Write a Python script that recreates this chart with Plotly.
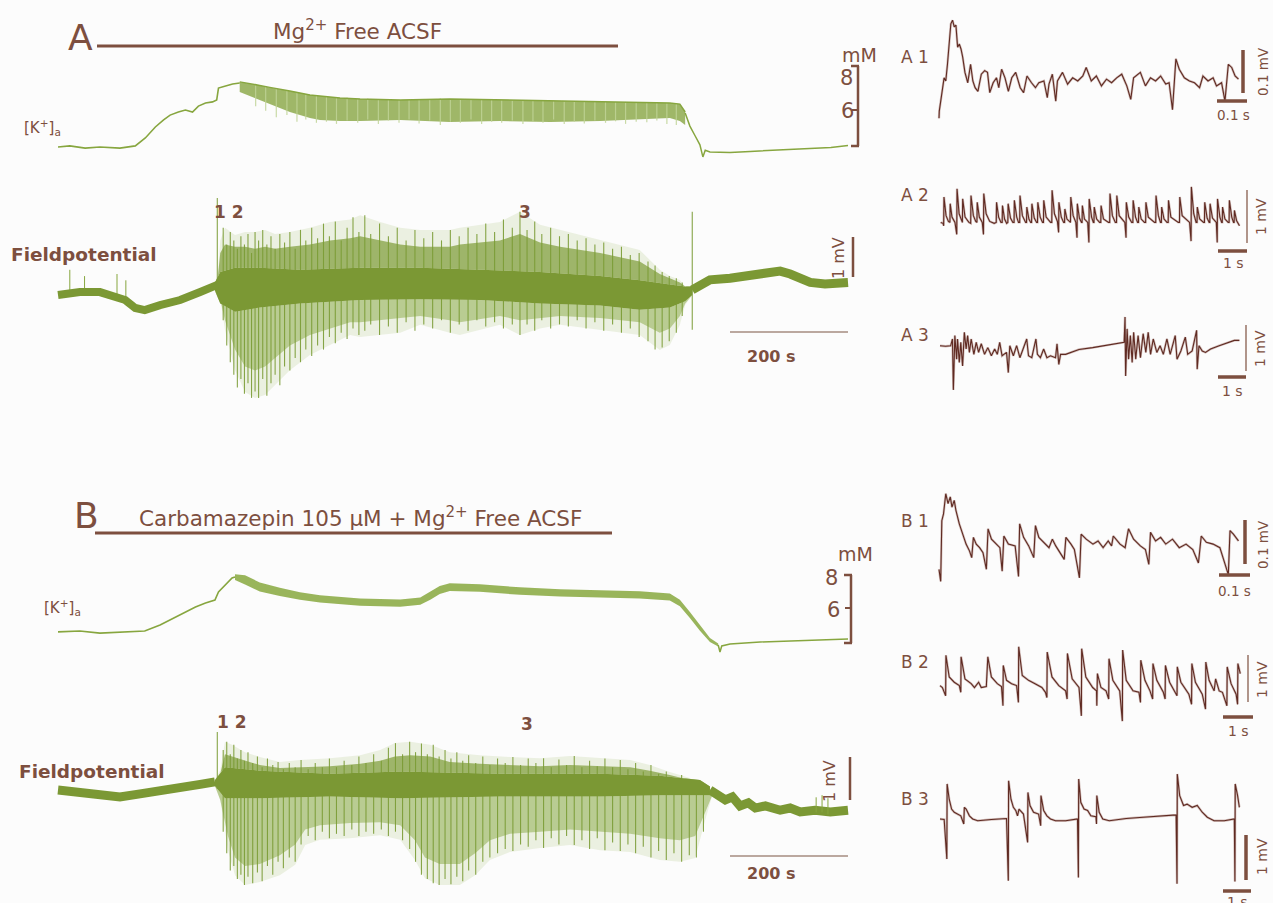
import plotly.graph_objects as go

W, H = 1273, 903
BG = '#fcfcfc'
BROWN = '#7d4f3f'
BAR_LIGHT = '#a68c80'
DARK = '#5f2a22'
HALO = 'rgba(150,100,90,0.40)'
GREEN = '#87a63f'
GREEN_CORE = '#7b9834'
GREEN_UP = 'rgba(125,155,55,0.70)'
GREEN_LOW = 'rgba(135,168,68,0.50)'
GREEN_HAZE = 'rgba(150,182,90,0.16)'
GREEN_STREAK = 'rgba(192,212,150,0.85)'
GREEN_SPK = 'rgba(122,155,52,0.9)'
GREEN_BAND = 'rgba(128,160,55,0.75)'
FONT = '"DejaVu Sans", "Open Sans", sans-serif'

# ---------------- A : [K+]a (time s, K mM) ----------------
kA_pre_t = [0, 20, 46, 71, 105, 131, 148, 165, 179, 190, 204, 216, 228, 238, 250, 262, 269, 272, 284, 296, 308]
kA_pre_v = [4.35, 4.40, 4.30, 4.35, 4.30, 4.40, 4.76, 5.26, 5.58, 5.80, 5.94, 6.03, 5.94, 6.21, 6.35, 6.40, 6.49, 7.03, 7.12, 7.21, 7.26]
kA_band_t = [308, 325, 342, 359, 376, 393, 410, 427, 444, 478, 512, 580, 664, 749, 834, 919, 986, 1037, 1054, 1063]
kA_band_hi = [7.31, 7.24, 7.15, 7.06, 6.99, 6.90, 6.80, 6.71, 6.67, 6.58, 6.53, 6.49, 6.53, 6.49, 6.44, 6.40, 6.40, 6.35, 6.30, 5.94]
kA_band_lo = [6.85, 6.67, 6.49, 6.30, 6.12, 5.94, 5.80, 5.67, 5.58, 5.53, 5.53, 5.58, 5.49, 5.53, 5.49, 5.53, 5.62, 5.67, 5.53, 5.35]
kA_spk_t = [335, 352, 370, 388, 405, 420, 438, 455, 472, 490, 508, 525, 543, 560, 578, 595, 612, 630, 648, 665, 682,
            700, 718, 735, 752, 770, 788, 805, 822, 840, 858, 875, 892, 910, 928, 945, 962, 980, 998, 1015, 1032, 1048]
kA_spk_hi = [7.2, 7.1, 7.0, 6.9, 6.8, 6.75, 6.7, 6.65, 6.6, 6.6, 6.55, 6.55, 6.5, 6.5, 6.5, 6.5, 6.52, 6.52, 6.55, 6.53, 6.5,
             6.5, 6.5, 6.5, 6.48, 6.47, 6.46, 6.45, 6.44, 6.43, 6.42, 6.42, 6.41, 6.4, 6.4, 6.4, 6.4, 6.38, 6.38, 6.37, 6.35, 6.32]
kA_spk_lo = [6.2, 6.0, 5.7, 5.8, 5.5, 5.6, 5.45, 5.5, 5.4, 5.55, 5.45, 5.6, 5.4, 5.55, 5.45, 5.6, 5.42, 5.55, 5.35, 5.5, 5.45,
             5.6, 5.4, 5.5, 5.45, 5.55, 5.4, 5.5, 5.45, 5.6, 5.4, 5.5, 5.42, 5.55, 5.45, 5.52, 5.4, 5.5, 5.48, 5.55, 5.4, 5.35]
kA_post_t = [1063, 1071, 1080, 1088, 1093, 1097, 1105, 1139, 1173, 1207, 1241, 1275, 1310, 1339]
kA_post_v = [5.90, 5.30, 4.85, 4.45, 3.90, 4.20, 4.12, 4.10, 4.15, 4.20, 4.22, 4.30, 4.33, 4.42]

# ---------------- A : field potential (time s, mV) ----------------
fA_pre_t = [0, 20, 37, 71, 97, 114, 131, 147, 173, 207, 241, 258, 270]
fA_pre_v = [0, 0.05, 0.07, 0.07, -0.02, -0.12, -0.31, -0.36, -0.24, -0.12, 0.07, 0.17, 0.24]
fA_pre_spk_t = [20, 45, 100, 115]
fA_pre_spk_hi = [0.60, 0.45, 0.50, 0.35]
fA_pre_spk_lo = [0.0, 0.0, -0.05, -0.15]
fA_env_t = [270, 275, 283, 300, 317, 334, 351, 368, 393, 427, 461, 495, 512, 546, 580, 614, 664, 681, 749, 783,
            817, 851, 919, 986, 1020, 1037, 1054, 1063, 1075]
fA_env_hi = [0.3, 1.3, 1.6, 1.43, 1.5, 1.5, 1.55, 1.45, 1.5, 1.6, 1.74, 1.8, 1.9, 1.74, 1.6, 1.55, 1.55, 1.6, 1.74, 1.98,
             1.67, 1.55, 1.31, 1.07, 0.6, 0.45, 0.36, 0.2, 0.15]
fA_env_lo = [0.0, -0.1, -0.83, -1.79, -2.31, -2.45, -2.38, -2.14, -1.79, -1.43, -1.19, -0.95, -1.0, -0.95, -0.9, -0.71,
             -0.9, -0.95, -0.71, -0.95, -0.8, -0.71, -0.83, -0.95, -1.31, -1.19, -0.71, -0.24, 0.0]
fA_dense_hi = [0.3, 1.0, 1.2, 1.15, 1.15, 1.1, 1.15, 1.1, 1.15, 1.2, 1.3, 1.35, 1.4, 1.3, 1.2, 1.15, 1.15, 1.2, 1.3, 1.45,
               1.25, 1.15, 1.0, 0.8, 0.5, 0.4, 0.3, 0.2, 0.15]
fA_dense_lo = [0.0, -0.1, -0.6, -1.3, -1.7, -1.8, -1.7, -1.5, -1.2, -0.95, -0.8, -0.65, -0.65, -0.6, -0.55, -0.5, -0.6,
               -0.65, -0.5, -0.6, -0.55, -0.5, -0.55, -0.65, -0.9, -0.8, -0.5, -0.2, 0.0]
fA_core_t = [266, 275, 300, 342, 410, 512, 614, 717, 817, 919, 986, 1037, 1063, 1075]
fA_core_hi = [0.30, 0.55, 0.65, 0.65, 0.6, 0.65, 0.65, 0.6, 0.55, 0.45, 0.35, 0.25, 0.2, 0.2]
fA_core_lo = [0.1, -0.2, -0.4, -0.3, -0.2, -0.12, -0.1, -0.12, -0.2, -0.25, -0.35, -0.3, -0.15, 0.0]
fA_spk_t = [270, 280, 286, 292, 298, 304, 310, 316, 322, 328, 334, 340, 347, 354, 361, 368, 376, 384, 393, 402, 411, 420,
            430, 440, 450, 460, 470, 480, 490, 500, 510, 520, 530, 545, 560, 575, 590, 605, 620, 635, 650, 665, 680, 695,
            710, 725, 740, 755, 770, 783, 795, 808, 820, 835, 850, 865, 880, 895, 910, 925, 940, 955, 970, 985, 1000,
            1012, 1024, 1036, 1048, 1058, 1075]
fA_spk_hi = [2.31, 1.6, 1.2, 1.5, 1.3, 1.1, 1.4, 1.2, 1.45, 1.0, 1.5, 1.3, 1.55, 1.2, 1.4, 1.1, 1.45, 1.25, 1.5, 1.1, 1.55,
             1.3, 1.6, 1.35, 1.7, 1.4, 1.75, 1.3, 1.6, 1.85, 1.5, 1.9, 1.45, 1.7, 1.4, 1.6, 1.3, 1.55, 1.35, 1.5, 1.3,
             1.55, 1.4, 1.6, 1.45, 1.7, 1.5, 1.8, 1.6, 1.98, 1.55, 1.75, 1.45, 1.6, 1.4, 1.45, 1.3, 1.35, 1.2, 1.25, 1.1,
             1.15, 0.95, 1.0, 0.8, 0.7, 0.55, 0.45, 0.4, 0.3, 1.98]
fA_spk_lo = [0.1, -0.6, -1.2, -1.6, -1.9, -2.2, -2.0, -2.35, -2.1, -2.45, -2.3, -2.45, -2.0, -2.4, -2.1, -1.9, -2.15, -1.7,
             -1.8, -1.5, -1.6, -1.3, -1.45, -1.2, -1.3, -1.0, -1.15, -0.9, -1.05, -0.8, -0.95, -0.85, -0.7, -0.95, -0.75,
             -0.9, -0.65, -0.85, -0.7, -0.8, -0.6, -0.9, -0.7, -0.85, -0.6, -0.75, -0.65, -0.8, -0.7, -0.95, -0.7, -0.85,
             -0.6, -0.8, -0.7, -0.75, -0.6, -0.8, -0.65, -0.85, -0.7, -0.9, -0.8, -1.0, -1.1, -1.3, -1.25, -1.1, -0.9,
             -0.5, -0.83]
fA_post_t = [1075, 1088, 1105, 1139, 1173, 1207, 1224, 1241, 1258, 1275, 1300, 1320, 1339]
fA_post_v = [0.12, 0.24, 0.36, 0.40, 0.45, 0.55, 0.57, 0.50, 0.40, 0.30, 0.26, 0.30, 0.30]

# ---------------- B : [K+]a (time s, K mM) ----------------
kB_pre_t = [0, 37, 71, 105, 147, 173, 199, 216, 233, 250, 266, 272, 283, 295, 300]
kB_pre_v = [4.55, 4.61, 4.48, 4.55, 4.61, 4.97, 5.45, 5.76, 6.06, 6.30, 6.48, 6.97, 7.39, 7.82, 7.88]
kB_band_t = [300, 317, 342, 376, 410, 444, 512, 580, 614, 631, 647, 664, 715, 783, 851, 919, 986, 1037, 1054, 1071,
             1088, 1105, 1119]
kB_band_hi = [8.05, 7.98, 7.55, 7.22, 6.95, 6.78, 6.58, 6.52, 6.63, 6.97, 7.33, 7.50, 7.44, 7.25, 7.13, 7.07, 7.01, 6.88,
              6.50, 5.75, 4.95, 4.18, 3.85]
kB_band_lo = [7.70, 7.42, 7.00, 6.72, 6.50, 6.33, 6.14, 6.08, 6.20, 6.50, 6.85, 7.03, 6.98, 6.80, 6.69, 6.63, 6.57, 6.45,
              6.10, 5.40, 4.62, 3.94, 3.66]
kB_post_t = [1119, 1122, 1125, 1139, 1190, 1241, 1292, 1339]
kB_post_v = [3.76, 3.33, 3.70, 3.82, 3.94, 4.00, 4.06, 4.12]

# ---------------- B : field potential (time s, mV) ----------------
fB_pre_t = [0, 37, 71, 105, 139, 173, 207, 241, 266]
fB_pre_v = [0.07, 0.02, -0.07, -0.09, -0.02, 0.07, 0.14, 0.20, 0.26]
fB_up_t = [266, 275, 283, 295, 317, 342, 376, 410, 461, 512, 546, 571, 597, 631, 664, 715, 766, 817, 868, 919, 970,
           1003, 1037, 1071, 1088, 1105]
fB_up_v = [0.3, 0.53, 1.19, 1.12, 0.95, 0.84, 0.72, 0.77, 0.81, 0.88, 1.0, 1.16, 1.19, 1.12, 0.95, 0.88, 0.84, 0.81, 0.86,
           0.81, 0.77, 0.65, 0.49, 0.35, 0.19, 0.07]
fB_dense_hi = [0.3, 0.45, 0.9, 0.85, 0.75, 0.65, 0.58, 0.6, 0.62, 0.68, 0.75, 0.85, 0.88, 0.85, 0.72, 0.68, 0.65, 0.62,
               0.65, 0.62, 0.6, 0.52, 0.42, 0.3, 0.18, 0.07]
fB_lo_t = [266, 275, 288, 300, 317, 342, 376, 402, 419, 444, 495, 546, 580, 605, 622, 647, 681, 707, 732, 766, 817, 868,
           919, 970, 1020, 1054, 1080, 1097, 1109]
fB_lo_v = [0.16, -0.16, -1.33, -1.91, -2.14, -2.07, -1.91, -1.67, -1.21, -1.09, -1.05, -0.98, -1.09, -1.56, -1.98, -2.14,
           -2.14, -1.91, -1.56, -1.37, -1.28, -1.21, -1.33, -1.37, -1.56, -1.60, -1.51, -0.63, -0.05]
fB_dense_lo = [0.16, -0.16, -1.0, -1.5, -1.7, -1.65, -1.45, -1.2, -0.85, -0.75, -0.7, -0.68, -0.75, -1.1, -1.5, -1.65,
               -1.65, -1.4, -1.1, -0.95, -0.9, -0.85, -0.9, -0.95, -1.05, -1.1, -1.0, -0.45, -0.05]
fB_core_t = [266, 283, 342, 461, 580, 749, 919, 1020, 1088, 1105]
fB_core_hi = [0.30, 0.60, 0.52, 0.45, 0.50, 0.45, 0.45, 0.40, 0.30, 0.15]
fB_core_lo = [0.16, -0.12, -0.12, -0.08, -0.12, -0.08, -0.08, -0.05, -0.05, -0.05]
fB_spk_t = [270, 280, 286, 292, 298, 304, 310, 316, 322, 330, 338, 346, 355, 364, 373, 382, 392, 402, 412, 424, 436, 448,
            460, 472, 485, 498, 510, 522, 535, 548, 560, 572, 584, 596, 606, 616, 626, 636, 646, 656, 666, 676, 686, 696,
            708, 720, 732, 745, 758, 771, 784, 797, 810, 823, 836, 849, 862, 875, 888, 901, 914, 927, 940, 953, 966, 979,
            992, 1005, 1018, 1031, 1044, 1057, 1070, 1082, 1094]
fB_spk_hi = [1.42, 1.0, 1.19, 0.9, 1.12, 0.8, 1.0, 0.75, 0.95, 0.7, 0.85, 0.6, 0.8, 0.65, 0.72, 0.55, 0.7, 0.6, 0.77, 0.55,
             0.7, 0.6, 0.8, 0.6, 0.75, 0.65, 0.85, 0.7, 0.9, 0.75, 1.05, 1.16, 0.9, 1.19, 0.95, 1.15, 0.9, 1.12, 0.85, 1.0,
             0.8, 0.95, 0.75, 0.88, 0.7, 0.85, 0.65, 0.8, 0.7, 0.84, 0.65, 0.8, 0.7, 0.81, 0.6, 0.78, 0.65, 0.86, 0.6, 0.75,
             0.62, 0.8, 0.6, 0.77, 0.55, 0.7, 0.5, 0.65, 0.45, 0.5, 0.35, 0.42, 0.3, 0.25, 0.15]
fB_spk_lo = [0.1, -0.9, -1.4, -1.8, -1.7, -2.0, -1.9, -2.14, -1.95, -2.1, -1.85, -2.05, -1.7, -1.9, -1.6, -1.75, -1.5, -1.6,
             -1.2, -1.0, -1.1, -0.9, -1.05, -0.95, -1.0, -0.85, -1.0, -0.9, -0.95, -0.85, -1.0, -0.9, -1.1, -1.3, -1.6,
             -1.9, -2.0, -2.1, -2.14, -2.0, -2.12, -1.95, -2.05, -1.8, -1.9, -1.6, -1.5, -1.4, -1.3, -1.35, -1.2, -1.25,
             -1.1, -1.28, -1.05, -1.2, -1.0, -1.21, -1.1, -1.3, -1.05, -1.33, -1.15, -1.35, -1.2, -1.4, -1.25, -1.5, -1.35,
             -1.56, -1.4, -1.6, -1.45, -1.5, -0.9]
fB_post_t = [1105, 1119, 1131, 1143, 1156, 1170, 1182, 1199, 1224, 1241, 1258, 1283, 1309, 1339]
fB_post_v = [0.07, -0.09, -0.16, -0.09, -0.30, -0.23, -0.35, -0.30, -0.40, -0.35, -0.44, -0.40, -0.44, -0.40]
fB_post_spk_t = [1285, 1295, 1305]
fB_post_spk_hi = [-0.10, -0.05, -0.12]
fB_post_spk_lo = [-0.45, -0.45, -0.50]

# ---------------- insets (A1/B1: ms, uV ; others: s, mV) ----------------
a1_t = [0, 1, 18, 24, 30, 36, 42, 48, 54, 60, 66, 72, 78, 84, 92, 102, 112, 120, 128, 138, 150, 162, 172, 180, 192, 204,
        212, 222, 234, 246, 258, 272, 288, 300, 312, 328, 342, 354, 372, 384, 390, 402, 414, 420, 438, 456, 474, 492,
        510, 522, 540, 558, 576, 594, 612, 630, 648, 666, 680, 690, 714, 732, 750, 768, 786, 804, 816, 828, 834, 840,
        852, 870, 888, 906, 924, 936, 954, 972, 984, 1002, 1014, 1020, 1026, 1038, 1050, 1062]
a1_v = [-68, -52, 22, 15, 52, 105, 142, 150, 135, 139, 90, 97, 86, 68, 34, 11, 52, 15, 0, -8, 30, 38, 34, -11, 11, 22, 0,
        41, 22, -8, 22, 34, 0, -11, 26, 11, 0, 11, 15, -22, 8, 30, -30, 15, 34, 8, 22, 15, 26, 45, 15, 26, 4, 19, 11, 22,
        30, 4, -26, 22, 34, 4, 22, 15, 26, 8, 11, -49, 22, 64, 41, 22, 15, 11, 0, 26, 15, 22, 4, 11, -30, 22, 52, 45, 26, 19]

a2_t = [0, 0.08, 0.10, 0.11, 0.18, 0.26, 0.31, 0.32, 0.38, 0.48, 0.54, 0.55, 0.62, 0.70, 0.73, 0.74, 0.82, 0.95,
        1.01, 1.02, 1.10, 1.18, 1.22, 1.23, 1.30, 1.40, 1.44, 1.45, 1.53, 1.65, 1.80, 1.87, 1.88, 1.95, 2.03,
        2.07, 2.08, 2.15, 2.22, 2.26, 2.27, 2.35, 2.43, 2.47, 2.48, 2.56, 2.62, 2.66, 2.67, 2.75, 2.86,
        2.89, 2.90, 2.97, 3.03, 3.06, 3.07, 3.15, 3.23, 3.26, 3.27, 3.35, 3.43, 3.46, 3.47, 3.55, 3.70,
        3.74, 3.75, 3.83, 3.93, 3.97, 3.98, 4.06, 4.14, 4.17, 4.18, 4.25, 4.34, 4.37, 4.38, 4.46, 4.55,
        4.59, 4.60, 4.67, 4.74, 4.76, 4.77, 4.84, 4.95, 4.99, 5.00, 5.08, 5.14, 5.16, 5.17, 5.25, 5.35,
        5.39, 5.40, 5.48, 5.65, 5.69, 5.70, 5.78, 5.88, 5.92, 5.93, 6.01, 6.20, 6.24, 6.25, 6.33, 6.43,
        6.47, 6.48, 6.56, 6.63, 6.66, 6.67, 6.75, 6.86, 6.90, 6.91, 6.99, 7.20, 7.24, 7.25, 7.33, 7.40,
        7.43, 7.44, 7.52, 7.62, 7.66, 7.67, 7.75, 8.00, 8.04, 8.05, 8.13, 8.38, 8.43, 8.44, 8.52, 8.60,
        8.63, 8.64, 8.72, 8.85, 8.88, 8.89, 8.97, 9.04, 9.06, 9.07, 9.15, 9.28, 9.31, 9.32, 9.40, 9.46,
        9.48, 9.49, 9.57, 9.68, 9.71, 9.72, 9.80, 9.86, 9.88, 9.89, 9.96, 10.06]
a2_v = [0, -0.02, -0.07, 0.53, 0.14, 0.02, 0.0, 0.39, 0.11, 0.0, -0.25, 0.70, 0.18, 0.02, 0.0, 0.49, 0.11, 0.0,
        -0.02, 0.56, 0.14, 0.02, 0.0, 0.42, 0.11, 0.0, -0.25, 0.60, 0.18, 0.02, -0.02, 0, 0.42, 0.11, 0.0,
        0, 0.35, 0.07, -0.02, 0, 0.39, 0.09, 0, 0, 0.46, 0.11, 0, 0, 0.56, 0.14, 0,
        0, 0.32, 0.07, 0, 0, 0.39, 0.09, 0, 0, 0.42, 0.11, 0, 0, 0.46, 0.11, 0,
        0, 0.67, 0.18, 0.02, -0.21, 0.42, 0.11, 0, 0, 0.28, 0.07, 0, 0, 0.53, 0.14, 0,
        -0.32, 0.39, 0.09, 0, 0, 0.35, 0.07, 0, -0.42, 0.49, 0.11, 0, 0, 0.32, 0.07, 0,
        0, 0.35, 0.07, 0, 0, 0.60, 0.14, 0, 0, 0.56, 0.14, 0, -0.32, 0.42, 0.11, 0,
        0, 0.46, 0.11, 0, 0, 0.32, 0.07, 0, 0, 0.42, 0.11, 0, 0, 0.56, 0.14, 0,
        0, 0.32, 0.07, 0, 0, 0.46, 0.11, 0, 0, 0.53, 0.14, 0, -0.39, 0.74, 0.18, 0,
        0, 0.32, 0.07, 0, 0, 0.42, 0.09, 0, 0, 0.39, 0.09, 0, -0.42, 0.49, 0.11, 0,
        0, 0.32, 0.07, 0, 0, 0.46, 0.11, 0, 0, 0.25, 0.04, -0.07]

a3_t = [0, 0.19, 0.36, 0.42, 0.45, 0.50, 0.56, 0.59, 0.65, 0.70, 0.76, 0.82, 0.88, 0.93, 0.99, 1.05, 1.14, 1.22, 1.30,
        1.39, 1.50, 1.61, 1.73, 1.84, 1.93, 2.01, 2.09, 2.24, 2.30, 2.35, 2.47, 2.58, 2.69, 2.81, 2.92, 2.98, 3.09, 3.23,
        3.28, 3.38, 3.49, 3.60, 3.72, 3.89, 3.94, 4.00, 4.06, 4.23, 4.45, 4.68, 5.14, 5.59, 6.05, 6.20, 6.23, 6.25, 6.30,
        6.35, 6.41, 6.47, 6.52, 6.59, 6.67, 6.75, 6.84, 6.93, 7.01, 7.09, 7.18, 7.30, 7.41, 7.52, 7.64, 7.75, 7.92, 7.98,
        8.11, 8.26, 8.34, 8.49, 8.64, 8.66, 8.72, 8.83, 8.94, 9.11, 9.40, 9.68, 9.91, 10.08]
a3_v = [0, -0.01, 0, 0.14, -0.92, 0.21, -0.28, 0.14, -0.35, 0.07, -0.42, 0.28, -0.07, 0.21, -0.14, 0.14, -0.18, 0.07,
        -0.14, 0.04, -0.18, -0.04, -0.21, -0.07, -0.18, 0.07, -0.21, -0.14, -0.56, 0, -0.21, 0, -0.25, -0.04, 0.14, -0.21,
        -0.25, 0.14, -0.18, -0.25, -0.07, -0.25, -0.21, -0.25, 0.04, -0.39, -0.18, -0.18, -0.13, -0.08, -0.04, 0.01, 0.06,
        0.07, 0.60, -0.63, 0.35, -0.28, 0.21, -0.35, 0.28, -0.28, 0.21, -0.25, 0.25, -0.14, 0.28, -0.18, 0.14, -0.14, 0,
        -0.18, 0.14, -0.18, 0.21, -0.28, -0.11, 0.18, -0.18, -0.11, 0.32, -0.49, 0, -0.11, -0.14, -0.07, 0, 0.06, 0.11, 0.11]

b1_t = [0, 6, 10, 16, 24, 32, 40, 46, 54, 60, 72, 84, 96, 108, 116, 122, 132, 144, 156, 168, 174, 186, 204, 216, 224, 230,
        246, 270, 282, 286, 300, 318, 336, 342, 354, 378, 390, 402, 414, 444, 450, 468, 480, 498, 504, 522, 546, 564, 582,
        600, 612, 618, 642, 660, 672, 690, 714, 732, 744, 750, 768, 786, 804, 828, 852, 876, 900, 920, 930, 948, 972, 996,
        1026, 1032, 1044, 1062]
b1_v = [-52, -79, 56, 71, 116, 94, 109, 86, 101, 79, 49, 26, 4, -11, -26, 19, 4, -4, -15, -52, 38, 15, 4, -4, -56, 22, 4,
        0, -68, 49, 19, 0, -26, 45, 19, 4, -4, 15, 0, -30, 19, 4, -8, -71, 26, 15, 4, 11, -4, 11, 0, 22, 4, -4, 38, 15, 0,
        -8, -41, 30, 11, 19, 4, 15, -4, 4, -8, -38, 22, 8, 4, -4, -64, 34, 26, 11]

b2_t = [0, 0.08, 0.19, 0.20, 0.31, 0.48, 0.65, 0.70, 0.71, 0.84, 1.05, 1.16, 1.30, 1.39, 1.56, 1.61, 1.73, 1.93, 2.07,
        2.12, 2.13, 2.24, 2.41, 2.58, 2.64, 2.65, 2.77, 2.98, 3.20, 3.43, 3.55, 3.60, 3.61, 3.77, 4.00, 4.23, 4.28, 4.29,
        4.45, 4.68, 4.76, 4.77, 4.91, 5.14, 5.27, 5.28, 5.30, 5.42, 5.59, 5.68, 5.69, 5.82, 6.05, 6.14, 6.15, 6.27, 6.50,
        6.70, 6.75, 6.76, 6.90, 7.07, 7.16, 7.17, 7.30, 7.52, 7.58, 7.59, 7.73, 7.92, 7.98, 7.99, 8.11, 8.38, 8.47, 8.48,
        8.60, 8.83, 8.94, 8.95, 9.06, 9.23, 9.28, 9.40, 9.51, 9.66, 9.67, 9.80, 9.97, 10.02, 10.03, 10.11]
b2_v = [0, -0.04, -0.21, 0.63, 0.18, 0.07, 0.0, -0.14, 0.60, 0.14, 0.04, -0.04, 0.07, -0.04, -0.02, 0.60, 0.18, 0.04,
        -0.02, -0.42, 0.42, 0.11, 0.04, 0.0, -0.35, 0.81, 0.21, 0.11, 0.04, -0.04, -0.14, -0.25, 0.70, 0.18, 0.0, -0.11,
        -0.28, 0.67, 0.14, -0.04, -0.63, 0.77, 0.18, -0.04, -0.11, -0.42, 0.25, -0.04, -0.11, -0.28, 0.56, 0.11, -0.11,
        -0.74, 0.74, 0.11, -0.11, -0.14, -0.35, 0.53, 0.11, -0.11, -0.28, 0.46, 0.11, -0.14, -0.28, 0.42, 0.07, -0.14,
        -0.21, 0.39, 0.07, -0.18, -0.39, 0.46, 0.07, -0.18, -0.49, 0.49, 0.11, -0.11, 0.14, -0.11, -0.14, -0.42, 0.39,
        0.04, -0.18, -0.39, 0.46, 0.25]

b3_t = [0, 0.14, 0.23, 0.24, 0.31, 0.39, 0.48, 0.59, 0.70, 0.80, 0.82, 0.88, 0.93, 0.99, 1.10, 1.27, 1.73, 2.24, 2.30,
        2.31, 2.39, 2.47, 2.55, 2.61, 2.66, 2.81, 2.95, 2.96, 3.03, 3.15, 3.32, 3.39, 3.40, 3.49, 3.60, 3.72, 3.89, 4.23,
        4.63, 4.66, 4.67, 4.74, 4.85, 4.97, 5.08, 5.25, 5.27, 5.28, 5.36, 5.48, 5.70, 6.27, 6.84, 7.41, 7.95, 7.98, 7.99,
        8.07, 8.20, 8.32, 8.49, 8.66, 8.83, 9.00, 9.23, 9.57, 9.91, 9.93, 9.94, 10.02, 10.08]
b3_v = [0, -0.01, -0.89, 0.78, 0.44, 0.22, 0.15, 0.11, 0.07, -0.11, 0.26, 0.22, 0.15, 0.07, 0, -0.04, -0.01, 0.01, -1.37,
        0.85, 0.44, 0.26, 0.19, 0.07, 0.22, 0.11, -0.52, 0.59, 0.30, 0.15, 0.11, -0.15, 0.52, 0.19, 0.07, 0, -0.04, -0.04,
        0, -1.30, 0.89, 0.37, 0.22, 0.19, 0.07, 0.05, -0.11, 0.52, 0.15, 0, -0.04, 0.01, 0.04, 0.07, 0.09, -1.44, 1.00,
        0.52, 0.30, 0.33, 0.26, 0.30, 0.15, 0.04, -0.04, -0.04, 0, -1.39, 0.78, 0.52, 0.26]

# ---------------- figure ----------------
fig = go.Figure()


def sfx(n):
    return '' if n == 1 else str(n)


def add_axes(n, ox, sx, oy, sy):
    # page pixel = ox + sx * x ; page pixel (from top) = oy - sy * y
    s = sfx(n)
    fig.update_layout(**{
        'xaxis' + s: dict(domain=[0, 1], range=[-ox / sx, (W - ox) / sx], visible=False, fixedrange=True,
                          anchor='y' + s),
        'yaxis' + s: dict(domain=[0, 1], range=[(oy - H) / sy, oy / sy], visible=False, fixedrange=True,
                          anchor='x' + s),
    })


def line(n, x, y, color, width):
    s = sfx(n)
    fig.add_trace(go.Scatter(x=list(x), y=list(y), mode='lines', line=dict(color=color, width=width),
                             xaxis='x' + s, yaxis='y' + s, hoverinfo='skip', showlegend=False))


def area(n, t1, v1, t2, v2, color):
    s = sfx(n)
    fig.add_trace(go.Scatter(x=list(t1) + list(t2)[::-1], y=list(v1) + list(v2)[::-1], mode='lines',
                             fill='toself', fillcolor=color, line=dict(width=0, color=color),
                             xaxis='x' + s, yaxis='y' + s, hoverinfo='skip', showlegend=False))


def spikes(n, ts, hi, lo, color, width):
    xs, ys = [], []
    for t, a, b in zip(ts, hi, lo):
        xs += [t, t, None]
        ys += [b, a, None]
    line(n, xs, ys, color, width)


SX = 0.59  # px per second on the long recordings
add_axes(1, 58, SX, 242.7, 22)     # A K+
add_axes(2, 58, SX, 295, 42)       # A field
add_axes(3, 58, SX, 707, 16.5)     # B K+
add_axes(4, 58, SX, 793, 43)       # B field
add_axes(5, 939, 0.282, 87.7, 0.45)   # A1
add_axes(6, 940.7, 29.7, 222.4, 48)   # A2
add_axes(7, 940, 29.7, 345.7, 48)     # A3
add_axes(8, 939, 0.282, 545.9, 0.45)  # B1
add_axes(9, 940, 29.7, 685.6, 48)     # B2
add_axes(10, 940, 29.7, 819, 45)      # B3

# A K+
line(1, kA_pre_t, kA_pre_v, GREEN, 1.6)
area(1, kA_band_t, kA_band_hi, kA_band_t, kA_band_lo, GREEN_BAND)
spikes(1, kA_spk_t, kA_spk_hi, kA_spk_lo, GREEN_STREAK, 1.2)
line(1, kA_band_t, kA_band_hi, GREEN, 1.5)
line(1, kA_post_t, kA_post_v, GREEN, 1.5)

# A field
area(2, fA_env_t, fA_env_hi, fA_env_t, fA_env_lo, GREEN_HAZE)
area(2, fA_env_t, fA_dense_hi, fA_core_t, fA_core_hi, GREEN_UP)
area(2, fA_core_t, fA_core_lo, fA_env_t, fA_dense_lo, GREEN_LOW)
spikes(2, fA_spk_t, fA_spk_hi, fA_spk_lo, GREEN_SPK, 1.1)
area(2, fA_core_t, fA_core_hi, fA_core_t, fA_core_lo, GREEN_CORE)
spikes(2, fA_pre_spk_t, fA_pre_spk_hi, fA_pre_spk_lo, GREEN, 1)
line(2, fA_pre_t, fA_pre_v, GREEN_CORE, 8)
line(2, fA_post_t, fA_post_v, GREEN_CORE, 9)

# B K+
line(3, kB_pre_t, kB_pre_v, GREEN, 1.6)
area(3, kB_band_t, kB_band_hi, kB_band_t, kB_band_lo, 'rgba(135,168,62,0.85)')
line(3, kB_post_t, kB_post_v, GREEN, 1.5)

# B field
area(4, fB_up_t, fB_up_v, fB_lo_t, fB_lo_v, GREEN_HAZE)
area(4, fB_up_t, fB_dense_hi, fB_core_t, fB_core_hi, GREEN_UP)
area(4, fB_core_t, fB_core_lo, fB_lo_t, fB_dense_lo, GREEN_LOW)
spikes(4, fB_spk_t, fB_spk_hi, fB_spk_lo, GREEN_SPK, 1.1)
area(4, fB_core_t, fB_core_hi, fB_core_t, fB_core_lo, GREEN_CORE)
line(4, fB_pre_t, fB_pre_v, GREEN_CORE, 9)
line(4, fB_post_t, fB_post_v, GREEN_CORE, 9)
spikes(4, fB_post_spk_t, fB_post_spk_hi, fB_post_spk_lo, GREEN, 1)

# insets
for n, t, v in [(5, a1_t, a1_v), (6, a2_t, a2_v), (7, a3_t, a3_v), (8, b1_t, b1_v), (9, b2_t, b2_v), (10, b3_t, b3_v)]:
    line(n, t, v, HALO, 2.4)
    line(n, t, v, DARK, 1.1)


# ---------------- decorations ----------------
def X(px):
    return px / W


def Y(py):
    return 1 - py / H


def seg(x0, y0, x1, y1, width, color=BROWN):
    fig.add_shape(type='line', xref='paper', yref='paper', x0=X(x0), y0=Y(y0), x1=X(x1), y1=Y(y1),
                  line=dict(color=color, width=width))


def txt(px, py, s, size, bold=False, angle=0, color=BROWN):
    fig.add_annotation(x=X(px), y=Y(py), xref='paper', yref='paper', text=('<b>%s</b>' % s) if bold else s,
                       showarrow=False, textangle=angle, xanchor='center', yanchor='middle',
                       font=dict(family=FONT, size=size, color=color))


# panel titles
txt(80, 37, 'A', 36)
seg(97, 46, 618, 46, 3)
txt(357, 30, 'Mg<sup>2+</sup> Free ACSF', 21.5)
txt(86, 515, 'B', 36)
seg(95, 533, 612, 533, 3)
txt(360, 517, 'Carbamazepin 105 µM + Mg<sup>2+</sup> Free ACSF', 21.5)

# trace labels
txt(42, 127, '[K<sup>+</sup>]<sub>a</sub>', 15)
txt(62, 607, '[K<sup>+</sup>]<sub>a</sub>', 15)
txt(84, 255, 'Fieldpotential', 18.5, bold=True)
txt(92, 771, 'Fieldpotential', 18.5, bold=True)
txt(229, 212, '1 2', 17, bold=True)
txt(525, 212, '3', 17, bold=True)
txt(232, 722, '1 2', 17, bold=True)
txt(527, 724, '3', 17, bold=True)

# K+ brackets
seg(858, 66, 858, 146, 2.5)
seg(851, 66, 859, 66, 2.5)
seg(852, 110, 858, 110, 2)
seg(851, 146, 859, 146, 2.5)
txt(846, 78, '8', 21)
txt(847, 111, '6', 21)
txt(859, 55, 'mM', 19)
seg(851, 575, 851, 643, 2.5)
seg(844, 575, 852, 575, 2.5)
seg(845, 608, 851, 608, 2)
seg(844, 643, 852, 643, 2.5)
txt(831, 578, '8', 21)
txt(833, 610, '6', 21)
txt(855, 554, 'mM', 19)

# field scale bars
seg(853, 237, 853, 277, 2.5)
txt(838, 258, '1 mV', 16, angle=-90)
seg(730, 332, 848, 332, 1.3, BAR_LIGHT)
txt(771, 356, '200 s', 16, bold=True)
seg(850, 757, 850, 800, 2.5)
txt(829, 781, '1 mV', 16, angle=-90)
seg(730, 856, 848, 856, 1.3, BAR_LIGHT)
txt(771, 873, '200 s', 16, bold=True)

# inset labels
for lbl, py in [('A 1', 57), ('A 2', 195), ('A 3', 335), ('B 1', 521), ('B 2', 662), ('B 3', 799)]:
    txt(915, py, lbl, 17)

# inset scale bars
seg(1243, 50, 1243, 93, 3.5)
seg(1217, 101, 1247, 101, 3.5)
txt(1233, 115, '0.1 s', 13.5)
txt(1263, 72, '0.1 mV', 13.5, angle=-90)

seg(1247, 190, 1247, 243, 1.2)
txt(1261, 217, '1 mV', 14, angle=-90)
seg(1218, 251, 1247, 251, 3.5)
txt(1233, 263, '1 s', 14)

seg(1246, 325, 1246, 371, 1.2)
txt(1260, 349, '1 mV', 14, angle=-90)
seg(1218, 377, 1246, 377, 3.5)
txt(1232, 391, '1 s', 14)

seg(1245, 520, 1245, 564, 3.5)
seg(1219, 575, 1250, 575, 3.5)
txt(1234, 591, '0.1 s', 13.5)
txt(1263, 545, '0.1 mV', 13.5, angle=-90)

seg(1248, 655, 1248, 702, 1.2)
txt(1262, 680, '1 mV', 14, angle=-90)
seg(1223, 717, 1253, 717, 3.5)
txt(1238, 731, '1 s', 14)

seg(1246, 835, 1246, 880, 3.5)
txt(1262, 857, '1 mV', 14, angle=-90)
seg(1223, 891, 1251, 891, 3.5)
txt(1237, 902, '1 s', 14)

fig.update_layout(width=W, height=H, margin=dict(l=0, r=0, t=0, b=0), paper_bgcolor=BG,
                  plot_bgcolor='rgba(0,0,0,0)', showlegend=False)

fig.write_html("out.html", config={'displayModeBar': False, 'staticPlot': True},
               post_script="document.body.style.margin='0';document.body.style.background='%s';" % BG)
